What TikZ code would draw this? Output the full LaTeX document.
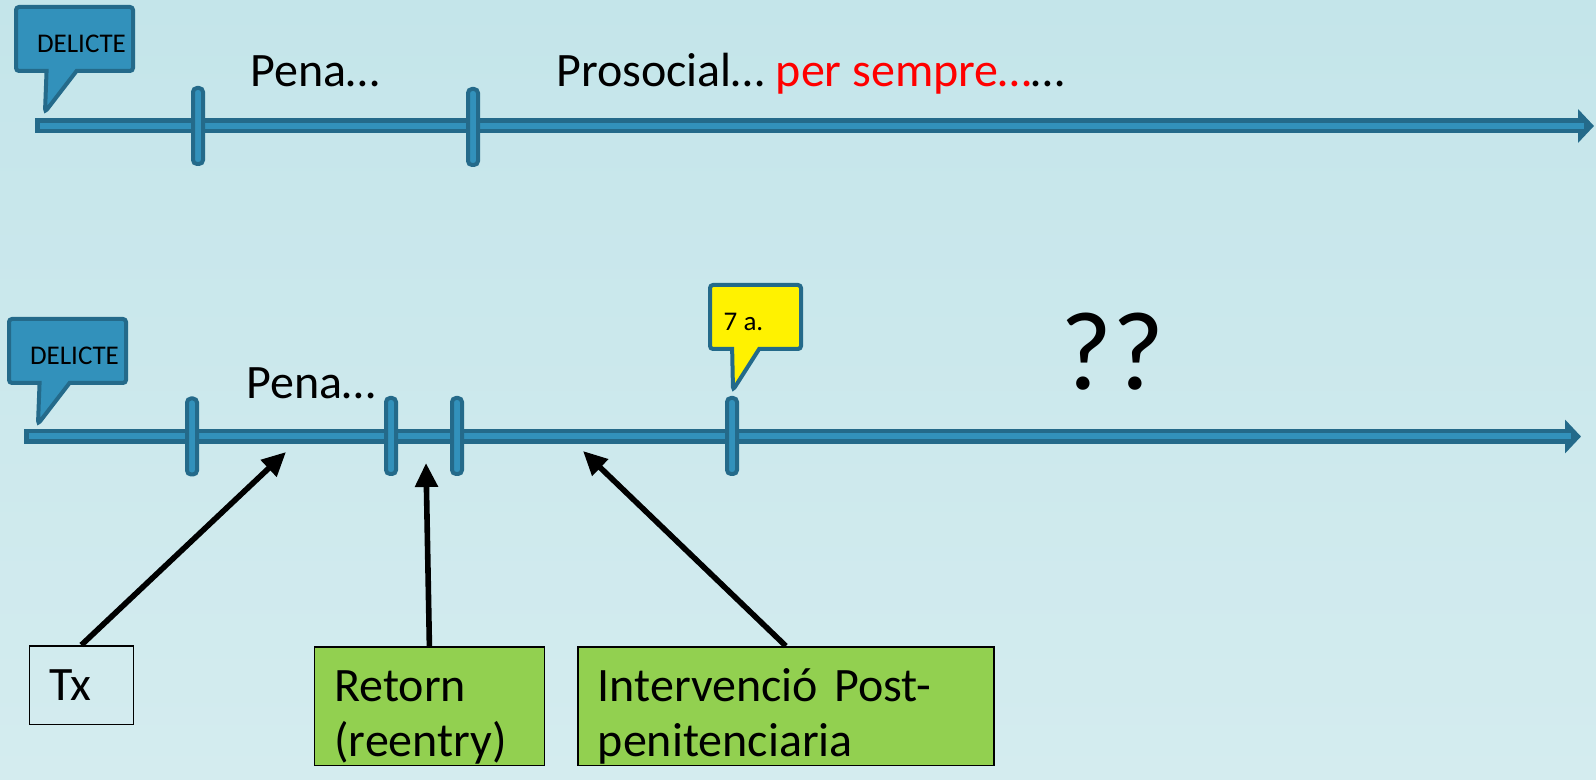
\documentclass[tikz,border=0pt]{standalone}
\usepackage{fontspec}
\setmainfont{Carlito}
\usepackage{tikz}
\usetikzlibrary{arrows.meta}
\usetikzlibrary{positioning}
\usetikzlibrary{shapes.callouts}

\definecolor{bgtop}{HTML}{C4E5EA}
\definecolor{bgbot}{HTML}{D4ECEF}
\definecolor{axisdark}{HTML}{246A8A}
\definecolor{axislight}{HTML}{3291BB}
\definecolor{boxgreen}{HTML}{92D050}

\begin{document}
\begin{tikzpicture}[
    x=0.5pt, y=-0.5pt,
    bigtext/.style={
        font=\fontsize{24}{27.5}\selectfont,
        inner sep=0pt, anchor=base west
    },
    timeline/.style={
        draw=axisdark, line width=7.5pt,
        -{Triangle[length=8pt,width=16.5pt]}
    },
    timeinner/.style={draw=axislight, line width=3pt},
    tickmark/.style={
        draw=axisdark, fill=axislight, line width=2pt,
        rounded corners=2pt, inner sep=0pt,
        minimum width=5pt, minimum height=38pt
    },
    bubble/.style={
        rectangle callout, draw=axisdark, line width=2pt,
        rounded corners=1.5pt, inner sep=1pt,
        minimum height=32pt,
        font=\fontsize{13.5}{15}\selectfont,
        text height=13.2pt, text depth=0pt
    },
    labelbox/.style={
        draw=black, line width=0.8pt, anchor=north west,
        align=left, inner xsep=10pt, inner ysep=12pt,
        text height=15.4pt,
        font=\fontsize{24}{27.5}\selectfont
    },
    linkarrow/.style={-{Triangle[length=12pt,width=11pt]}, line width=2.8pt}
]
\useasboundingbox (0,0) rectangle (1596,780);
\shade[top color=bgtop, bottom color=bgbot] (0,0) rectangle (1596,780);

% first timeline
\coordinate (axis1a) at (35,126);
\coordinate (axis1b) at (1594,126);
\draw[timeline] (axis1a) -- (axis1b);
\draw[timeinner] ([xshift=2.5pt]axis1a) -- ([xshift=-5pt]axis1b);
\node[tickmark] (mark11) at (198,126) {};
\node[tickmark] (mark12) at (473,127) {};

\node[bubble, fill=axislight, minimum width=58.5pt,
      callout absolute pointer={(45,112)}, callout pointer width=15pt]
      (delicte1) at (74.5,39) {\hspace*{7pt}DELICTE};

\node[bigtext] (pena1) at (250,86.7) {Pena…};
\node[bigtext] (prosocial) at (556,86.7) {Prosocial… \textcolor{red}{per sempre…}…};

% second timeline
\coordinate (axis2a) at (24,436.5);
\coordinate (axis2b) at (1581,436.5);
\draw[timeline] (axis2a) -- (axis2b);
\draw[timeinner] ([xshift=2.5pt]axis2a) -- ([xshift=-5pt]axis2b);
\node[tickmark] (mark21) at (192,436.5) {};
\node[tickmark] (mark22) at (391,436) {};
\node[tickmark] (mark23) at (457,436) {};
\node[tickmark] (mark24) at (732,436) {};

\node[bubble, fill=axislight, minimum width=58.5pt,
      callout absolute pointer={(38,424)}, callout pointer width=15pt]
      (delicte2) at (67.5,351) {\hspace*{7pt}DELICTE};
\node[bubble, fill=yellow, minimum width=45.5pt,
      callout absolute pointer={(733,390)}, callout pointer width=13.5pt]
      (anys) at (755.5,317) {7 a.\hspace*{12pt}};

\node[bigtext] (pena2) at (246,399) {Pena…};
\node[font=\fontsize{56}{60}\selectfont, inner sep=0pt, anchor=base west]
      (dubte) at (1060,390) {??};

% interventions
\node[labelbox, text width=32pt, minimum height=39pt] (tx) at (28.6,645) {Tx};
\node[labelbox, fill=boxgreen, text width=95pt, text depth=20pt]
      (retorn) at (313.6,646) {Retorn\\(reentry)};
\node[labelbox, fill=boxgreen, text width=188pt, text depth=20pt]
      (postpen) at (577,646) {Intervenció Post-\\penitenciaria};

\coordinate (txend) at (286,452);
\coordinate (retornend) at (426,463);
\coordinate (postpenend) at (583,451);
\draw[linkarrow] (tx.north) -- (txend);
\draw[linkarrow] (retorn.north) -- (retornend);
\draw[linkarrow] (postpen.north) -- (postpenend);
\end{tikzpicture}
\end{document}
